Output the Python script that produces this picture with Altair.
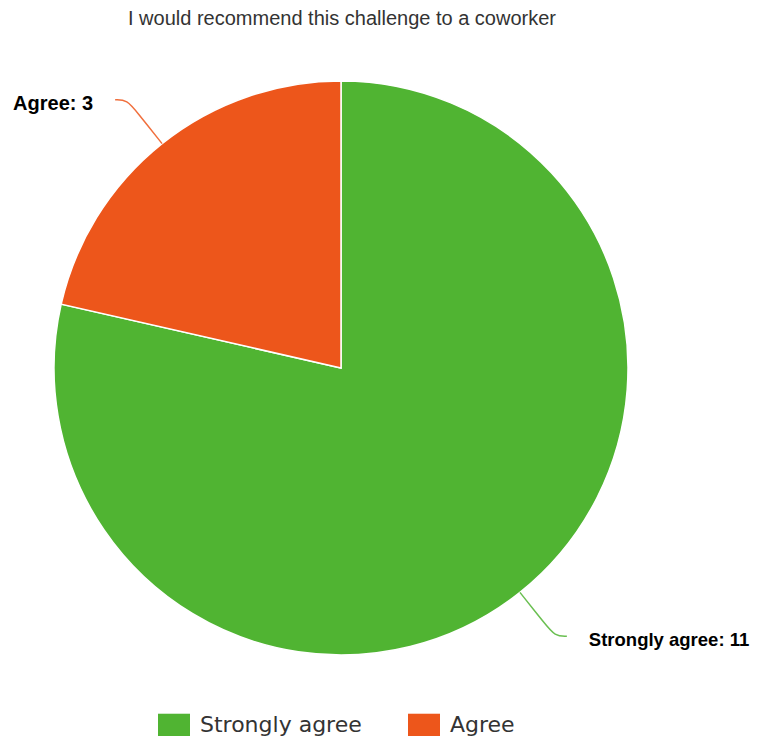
import altair as alt
import pandas as pd
import numpy as np

categories = ["Strongly agree", "Agree"]
counts = [11, 3]
colors = ["#50B432", "#ED561B"]
title_text = "I would recommend this challenge to a coworker"

W, H = 744, 728
CX, CY, R = 333, 360, 287

df = pd.DataFrame({"category": categories, "count": counts, "order": list(range(len(categories)))})
df["label"] = df["category"] + ": " + df["count"].astype(str)

total = sum(counts)
cum = np.cumsum([0] + counts)
rows = []
labels = []
for i, cat in enumerate(categories):
    a = (cum[i] + cum[i + 1]) / 2 / total * 2 * np.pi
    s, c = np.sin(a), np.cos(a)
    side = 1 if s >= 0 else -1
    pts = []
    for r in (R, R + 40, R + 56):
        pts.append((CX + r * s, CY - r * c))
    ex, ey = pts[-1][0] + side * 12, pts[-1][1]
    pts.append((ex, ey))
    pts.append((ex, ey))
    for k, (px, py) in enumerate(pts):
        rows.append({"category": cat, "seq": k, "px": px, "py": py})
    labels.append({"category": cat, "label": df["label"][i], "px": ex + side * 22,
                   "py": ey + 4, "side": "right" if side > 0 else "left"})
conn = pd.DataFrame(rows)
lab = pd.DataFrame(labels)

color = alt.Color("category:N", scale=alt.Scale(domain=categories, range=colors),
                  sort=categories,
                  legend=alt.Legend(orient="none", legendX=150, legendY=701, direction="horizontal",
                                    title=None, symbolType="M-1,-0.72L1,-0.72L1,0.72L-1,0.72Z",
                                    symbolSize=1024, symbolStrokeWidth=0, labelFontSize=22,
                                    labelFont="DejaVu Sans", labelColor="#333333", labelLimit=0,
                                    labelOffset=10, columnPadding=46, symbolOpacity=1))

pie = alt.Chart(df).mark_arc(radius=R, stroke="white", strokeWidth=1.5).encode(
    theta=alt.Theta("count:Q", stack=True),
    color=color,
    order=alt.Order("order:Q"),
    x=alt.value(CX), y=alt.value(CY),
)

lines = alt.Chart(conn).mark_line(interpolate="basis", strokeWidth=1.5, opacity=0.85).encode(
    x=alt.X("px:Q", scale=None),
    y=alt.Y("py:Q", scale=None),
    color=alt.Color("category:N", scale=alt.Scale(domain=categories, range=colors), legend=None),
    detail="category:N",
    order="seq:Q",
)

lab_l = alt.Chart(lab).transform_filter(alt.datum.side == "left").mark_text(
    align="right", baseline="middle", font="Liberation Sans", fontWeight="bold",
    fontSize=20, color="#000000").encode(
    x=alt.X("px:Q", scale=None), y=alt.Y("py:Q", scale=None), text="label:N")
lab_r = alt.Chart(lab).transform_filter(alt.datum.side == "right").mark_text(
    align="left", baseline="middle", font="Liberation Sans", fontWeight="bold",
    fontSize=18.5, color="#000000").encode(
    x=alt.X("px:Q", scale=None), y=alt.Y("py:Q", scale=None), text="label:N")

title = alt.Chart(pd.DataFrame({"t": [title_text]})).mark_text(
    align="center", baseline="alphabetic", font="Liberation Sans", fontSize=20, color="#333333").encode(
    x=alt.value(CX + 1), y=alt.value(17), text="t:N")

chart = alt.layer(pie, lines, lab_l, lab_r, title).properties(
    width=W, height=H, autosize=alt.AutoSizeParams(type="none"), padding=0
).configure_view(stroke=None).resolve_scale(color="shared")

chart.save("out.html", embed_options={"renderer": "svg", "actions": False})
